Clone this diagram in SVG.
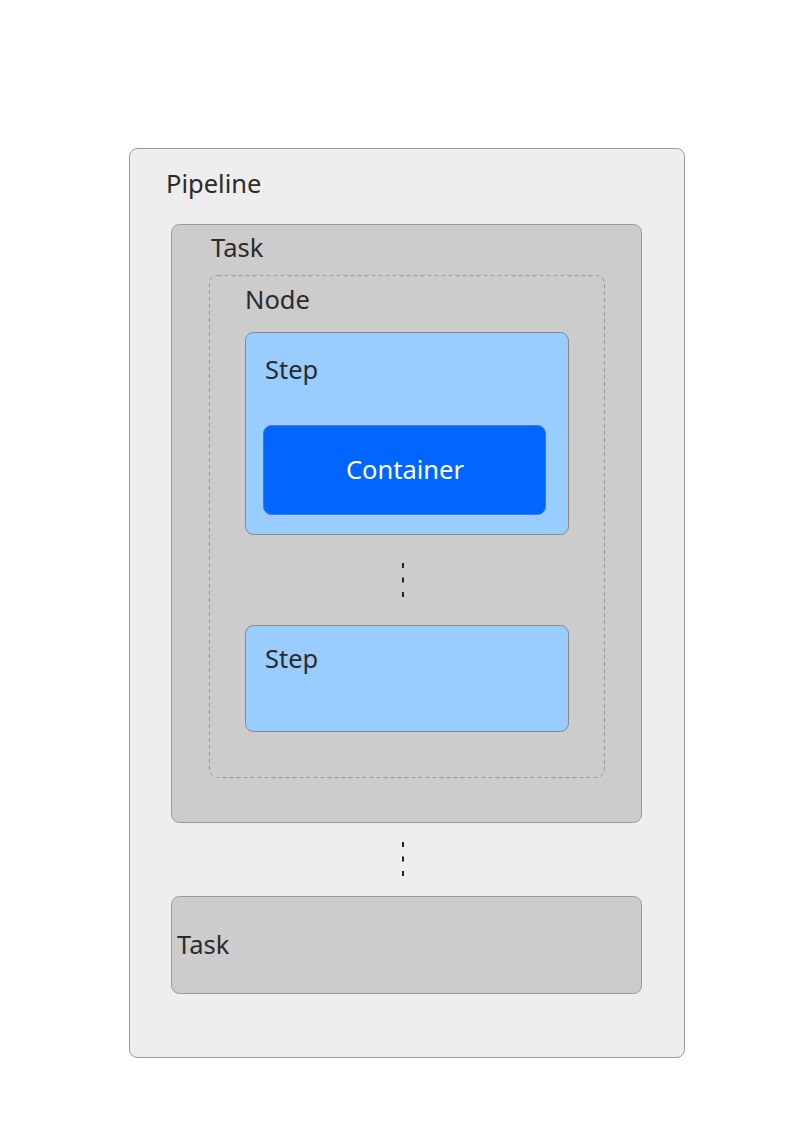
<svg xmlns="http://www.w3.org/2000/svg" width="800" height="1130" viewBox="0 0 800 1130">
<style>
text{font-family:"Noto Sans","Open Sans","DejaVu Sans",sans-serif;font-size:25.5px;fill:#2b2b2b}
.pipe{fill:#eeeeee;stroke:#999999;stroke-width:1}
.task{fill:#cccccc;stroke:#999999;stroke-width:1}
.node{fill:none;stroke:#999999;stroke-width:1;stroke-dasharray:4 3}
.step{fill:#99ccff;stroke:#888888;stroke-width:1}
.cont{fill:#0066ff;stroke:#4a78c8;stroke-width:1}
.dots{stroke:#222222;stroke-width:2;stroke-dasharray:5 9.5;fill:none}
</style>
<rect width="800" height="1130" fill="#ffffff"/>
<g id="pipeline">
<rect class="pipe" x="129.5" y="148.5" width="555" height="909" rx="8"/>
<text x="166" y="193">Pipeline</text>
</g>
<g id="task1">
<rect class="task" x="171.5" y="224.5" width="470" height="598" rx="8"/>
<text x="211" y="257">Task</text>
</g>
<g id="node">
<rect class="node" x="209.5" y="275.5" width="395" height="502" rx="8"/>
<text x="245" y="309">Node</text>
</g>
<g id="step1">
<rect class="step" x="245.5" y="332.5" width="323" height="202" rx="8"/>
<text x="265" y="379">Step</text>
</g>
<g id="container">
<rect class="cont" x="263.5" y="425.5" width="282" height="89" rx="8"/>
<text x="405" y="479" text-anchor="middle" style="fill:#ffffff">Container</text>
</g>
<g id="step2">
<rect class="step" x="245.5" y="625.5" width="323" height="106" rx="8"/>
<text x="265" y="668">Step</text>
</g>
<g id="task2">
<rect class="task" x="171.5" y="896.5" width="470" height="97" rx="8"/>
<text x="177" y="954">Task</text>
</g>
<g id="connectors">
<line class="dots" x1="403" y1="563" x2="403" y2="598"/>
<line class="dots" x1="403" y1="842" x2="403" y2="877"/>
</g>
</svg>
